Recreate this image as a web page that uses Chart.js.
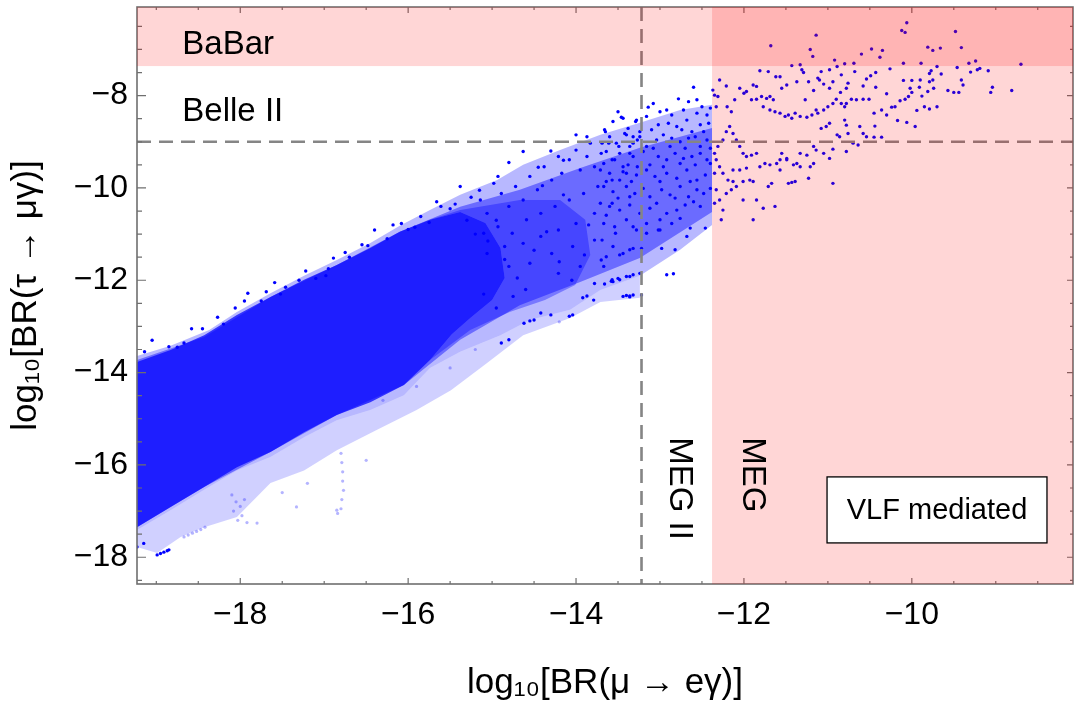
<!DOCTYPE html>
<html><head><meta charset="utf-8">
<script src="https://cdn.jsdelivr.net/npm/chart.js@4.4.0/dist/chart.umd.min.js"></script>
<style>html,body{margin:0;padding:0;background:#fff;overflow:hidden}#wrap{width:1079px;height:716px}</style>
</head><body><div id="wrap"><canvas id="c" width="1079" height="716"></canvas></div>
<script>
// ---- axes / limits ----
const xTicks = [-18, -16, -14, -12, -10];
const yTicks = [-18, -16, -14, -12, -10, -8];
const xRange = [-19.23, -8.08];
const yRange = [-18.58, -6.08];
const megIIBound = -13.22, megBound = -12.38, belleIIBound = -9.0, babarBound = -7.36;
const xTitle = 'log₁₀[BR(μ → eγ)]';
const yTitle = 'log₁₀[BR(τ → μγ)]';

// ---- outline of the whole point band (sparse speckle) ----
const outerEnvelope = [[-19.23,-13.64],[-18.83,-13.42],[-18.37,-13.08],[-18.04,-12.69],[-17.64,-12.28],[-17.24,-11.90],[-16.85,-11.56],[-16.45,-11.19],[-16.10,-10.82],[-15.74,-10.48],[-15.38,-10.15],[-14.94,-9.83],[-14.63,-9.50],[-14.19,-9.18],[-13.71,-8.85],[-13.24,-8.59],[-12.76,-8.31],[-12.38,-8.20],
 [-12.38,-10.80],[-12.76,-11.34],[-13.24,-11.90],[-13.71,-12.21],[-14.07,-12.64],[-14.55,-12.86],[-14.90,-13.19],[-15.38,-13.55],[-15.74,-13.90],[-16.05,-14.49],[-16.45,-14.81],[-16.85,-15.03],[-17.24,-15.40],[-17.64,-15.83],[-18.04,-16.12],[-18.43,-16.54],[-18.83,-16.98],[-19.23,-17.41]];
// ---- outline of the denser part of the band ----
const midEnvelope = [[-19.23,-13.73],[-18.43,-13.23],[-17.64,-12.36],[-16.85,-11.67],[-16.10,-10.95],[-15.38,-10.41],[-14.67,-10.04],[-13.95,-9.57],[-13.24,-9.13],[-12.38,-8.70],
 [-12.38,-10.52],[-13.24,-11.52],[-13.95,-12.04],[-14.67,-12.54],[-15.38,-13.29],[-16.05,-14.27],[-16.85,-14.92],[-17.64,-15.72],[-18.43,-16.48],[-19.23,-17.35]];
// ---- outline of the transition crescent between dense core and speckled part ----
const transitionEnvelope = [[-15.74,-10.69],[-15.38,-10.48],[-14.67,-10.26],[-14.19,-10.26],[-13.89,-10.69],[-13.83,-11.45],[-14.01,-12.10],[-14.37,-12.43],[-14.79,-12.69],[-15.26,-13.08],[-15.74,-13.73],
 [-15.48,-13.17],[-15.26,-12.82],[-15.00,-12.43],[-14.85,-11.95],[-14.90,-11.30],[-15.08,-10.76],[-15.38,-10.52]];
// ---- outline of the saturated core ----
const coreEnvelope = [[-19.23,-13.77],[-18.83,-13.51],[-18.43,-13.19],[-18.04,-12.75],[-17.64,-12.36],[-17.24,-11.99],[-16.85,-11.67],[-16.45,-11.30],[-16.10,-10.95],[-15.74,-10.69],[-15.38,-10.52],
 [-15.08,-10.76],[-14.90,-11.30],[-14.85,-11.95],[-15.00,-12.43],[-15.26,-12.82],[-15.48,-13.17],[-15.74,-13.73],[-16.05,-14.27],[-16.45,-14.64],[-16.85,-14.92],[-17.24,-15.29],[-17.64,-15.72],[-18.04,-16.05],[-18.43,-16.48],[-18.83,-16.91],[-19.23,-17.35]];
// ---- outline of the faint lower fringe ----
const fringeEnvelope = [[-19.23,-17.41],[-18.83,-16.98],[-18.43,-16.54],[-18.04,-16.12],[-17.64,-15.83],[-17.24,-15.40],[-16.85,-15.03],[-16.45,-14.81],[-16.05,-14.49],[-15.74,-13.90],[-15.38,-13.55],[-14.90,-13.19],[-14.55,-12.86],[-14.07,-12.64],[-13.71,-12.21],[-13.24,-11.90],
 [-13.24,-12.38],[-13.71,-12.47],[-14.07,-12.82],[-14.63,-13.19],[-15.06,-13.79],[-15.49,-14.38],[-15.90,-14.81],[-16.37,-15.24],[-16.85,-15.68],[-17.24,-16.12],[-17.64,-16.39],[-18.04,-17.13],[-18.43,-17.35],[-18.71,-17.56],[-18.99,-17.91],[-19.23,-17.78]];

// ---- individual points: MEG-excluded region ----
const megPoints = [[-10.06,-6.42],[-10.12,-6.59],[-10.08,-6.63],[-11.14,-6.69],[-9.48,-6.61],[-11.68,-6.92],[-11.21,-7.00],[-11.18,-7.15],[-9.81,-6.95],[-9.75,-7.02],[-9.66,-6.97],[-9.41,-6.96],[-10.60,-7.10],[-10.48,-6.99],[-10.35,-7.02],[-10.38,-7.17],[-10.92,-7.23],[-10.80,-7.31],[-10.69,-7.30],[-10.10,-7.30],[-9.89,-7.30],[-9.32,-7.30],[-9.24,-7.25],[-8.70,-7.32],[-11.43,-7.35],[-11.33,-7.33],[-10.26,-7.42],[-11.81,-7.46],[-11.31,-7.44],[-11.29,-7.50],[-11.08,-7.48],[-10.98,-7.44],[-10.89,-7.37],[-10.84,-7.55],[-10.68,-7.48],[-10.43,-7.50],[-10.49,-7.57],[-9.77,-7.46],[-9.79,-7.52],[-9.70,-7.37],[-9.46,-7.39],[-9.30,-7.49],[-9.22,-7.44],[-9.19,-7.41],[-9.09,-7.46],[-9.04,-7.82],[-9.06,-7.93],[-8.81,-7.89],[-9.41,-7.66],[-9.39,-7.77],[-9.57,-7.89],[-9.50,-7.93],[-9.44,-7.93],[-9.65,-7.53],[-9.90,-7.66],[-10.00,-7.67],[-10.10,-7.67],[-9.79,-7.70],[-9.75,-7.66],[-9.91,-7.82],[-10.02,-7.84],[-9.74,-7.84],[-9.81,-7.91],[-9.88,-8.01],[-10.00,-7.93],[-10.04,-8.02],[-10.08,-8.08],[-10.14,-8.11],[-10.20,-8.24],[-10.24,-8.25],[-9.96,-8.67],[-10.06,-8.58],[-10.17,-8.54],[-9.94,-8.32],[-9.85,-8.24],[-9.79,-8.29],[-9.70,-8.24],[-10.30,-8.42],[-10.36,-8.31],[-10.45,-8.38],[-10.44,-8.66],[-10.45,-8.90],[-10.36,-8.90],[-10.30,-7.96],[-10.43,-7.82],[-10.54,-7.64],[-10.58,-7.79],[-10.58,-8.08],[-10.51,-8.08],[-10.66,-8.09],[-10.72,-8.08],[-10.76,-7.73],[-10.78,-7.84],[-10.85,-7.93],[-10.90,-8.08],[-10.94,-7.70],[-10.98,-7.84],[-11.05,-7.75],[-11.10,-7.66],[-11.12,-7.62],[-11.17,-7.89],[-11.23,-7.70],[-11.27,-8.09],[-11.37,-7.70],[-11.49,-7.77],[-11.55,-7.84],[-11.57,-7.59],[-11.62,-7.59],[-11.71,-7.48],[-12.29,-7.66],[-12.21,-7.79],[-12.35,-7.99],[-12.31,-8.02],[-12.37,-7.88],[-12.33,-8.24],[-12.20,-8.24],[-12.15,-8.35],[-12.11,-8.09],[-12.05,-7.84],[-12.00,-7.95],[-11.97,-7.91],[-11.89,-7.77],[-11.85,-7.80],[-11.91,-8.09],[-11.85,-8.08],[-11.79,-8.02],[-11.73,-8.06],[-11.69,-8.02],[-11.65,-8.09],[-11.77,-8.24],[-11.69,-8.31],[-11.63,-8.35],[-11.57,-8.38],[-11.51,-8.45],[-11.47,-8.42],[-11.43,-8.49],[-11.39,-8.38],[-11.33,-8.45],[-11.25,-8.47],[-11.19,-8.42],[-11.14,-8.31],[-11.12,-8.38],[-11.05,-8.31],[-11.00,-8.24],[-10.94,-8.17],[-10.84,-8.17],[-10.80,-8.24],[-10.78,-8.17],[-10.98,-8.60],[-11.02,-8.67],[-11.08,-8.71],[-10.86,-8.89],[-10.89,-8.85],[-10.80,-8.53],[-10.78,-8.64],[-10.76,-8.82],[-10.62,-8.67],[-10.58,-8.82],[-10.54,-8.89],[-10.70,-9.03],[-10.64,-9.07],[-10.78,-9.21],[-10.94,-9.16],[-10.98,-9.36],[-11.05,-9.25],[-11.14,-9.18],[-11.17,-9.10],[-11.25,-9.29],[-11.33,-9.25],[-11.37,-9.47],[-11.33,-9.54],[-11.41,-9.50],[-11.49,-9.36],[-11.55,-9.25],[-11.57,-9.39],[-11.61,-9.47],[-11.69,-9.50],[-11.75,-9.47],[-11.81,-9.54],[-11.85,-9.25],[-11.91,-9.29],[-11.97,-9.32],[-12.01,-9.25],[-12.05,-9.10],[-12.09,-8.96],[-12.13,-8.82],[-12.17,-8.67],[-12.21,-8.78],[-12.25,-8.96],[-12.31,-9.10],[-12.35,-9.25],[-12.33,-9.39],[-12.29,-9.54],[-12.35,-9.68],[-12.25,-9.68],[-12.19,-9.83],[-12.13,-9.86],[-12.09,-9.97],[-12.01,-9.86],[-11.93,-9.83],[-11.89,-9.86],[-11.97,-9.57],[-12.05,-9.61],[-12.13,-9.61],[-12.15,-10.04],[-12.21,-10.12],[-12.33,-10.04],[-12.29,-10.26],[-12.35,-10.33],[-12.25,-10.48],[-12.27,-10.69],[-12.01,-10.26],[-11.89,-10.69],[-11.85,-10.26],[-11.77,-10.44],[-11.71,-9.97],[-11.67,-9.90],[-11.63,-10.40],[-11.47,-9.90],[-11.43,-9.88],[-11.39,-9.86],[-11.23,-9.79],[-10.94,-9.90],[-11.57,-9.61],[-11.49,-9.39],[-11.17,-9.47],[-11.21,-9.54]];

// ---- individual points: speckled zone left of the MEG bound ----
const speckledPoints = [[-12.60,-7.82],[-12.78,-8.07],[-12.56,-8.09],[-12.66,-8.13],[-13.08,-8.17],[-13.14,-8.25],[-12.92,-8.31],[-12.72,-8.31],[-12.50,-8.24],[-12.40,-8.27],[-13.00,-8.35],[-12.86,-8.42],[-13.50,-8.35],[-12.56,-8.38],[-12.44,-8.42],[-13.46,-8.47],[-13.28,-8.53],[-13.56,-8.56],[-13.16,-8.45],[-13.02,-8.63],[-12.90,-8.60],[-12.80,-8.67],[-12.68,-8.53],[-12.52,-8.63],[-12.42,-8.60],[-13.65,-8.78],[-13.38,-8.71],[-13.24,-8.78],[-13.10,-8.74],[-12.74,-8.74],[-12.62,-8.78],[-12.48,-8.78],[-13.60,-8.89],[-13.42,-8.82],[-13.32,-8.89],[-13.24,-8.89],[-13.04,-8.96],[-12.96,-8.85],[-12.86,-8.92],[-12.76,-9.00],[-12.66,-8.92],[-12.58,-8.89],[-12.44,-8.96],[-13.69,-9.03],[-13.52,-9.03],[-13.36,-9.10],[-13.16,-9.10],[-13.08,-9.14],[-12.88,-9.10],[-12.70,-9.14],[-12.52,-9.10],[-12.40,-9.14],[-13.64,-9.21],[-13.48,-9.25],[-13.32,-9.32],[-13.20,-9.21],[-13.02,-9.32],[-12.92,-9.39],[-12.82,-9.25],[-12.72,-9.36],[-12.62,-9.32],[-12.52,-9.25],[-12.44,-9.39],[-13.67,-9.47],[-13.54,-9.39],[-13.38,-9.50],[-13.12,-9.50],[-12.96,-9.54],[-12.76,-9.47],[-12.58,-9.50],[-12.40,-9.47],[-13.71,-9.61],[-13.60,-9.68],[-13.44,-9.65],[-13.28,-9.72],[-13.16,-9.61],[-13.06,-9.75],[-12.92,-9.68],[-12.80,-9.79],[-12.68,-9.61],[-12.56,-9.83],[-12.46,-9.72],[-13.64,-9.86],[-13.48,-9.83],[-13.34,-9.86],[-13.00,-9.86],[-12.64,-9.86],[-13.67,-9.97],[-13.56,-10.08],[-13.40,-9.97],[-13.30,-10.12],[-13.20,-10.01],[-13.12,-10.19],[-12.98,-10.04],[-12.88,-10.15],[-12.76,-9.97],[-12.66,-10.19],[-12.56,-10.04],[-12.48,-10.12],[-12.40,-10.01],[-13.50,-10.22],[-12.82,-10.22],[-13.71,-10.33],[-13.60,-10.40],[-13.48,-10.48],[-13.36,-10.37],[-13.24,-10.55],[-13.12,-10.44],[-13.04,-10.33],[-12.92,-10.55],[-12.80,-10.48],[-12.70,-10.37],[-12.60,-10.30],[-12.52,-10.40],[-13.64,-10.59],[-13.67,-10.77],[-13.54,-10.84],[-13.40,-10.69],[-13.28,-10.91],[-13.16,-10.77],[-13.00,-10.91],[-12.86,-10.77],[-12.76,-10.66],[-12.64,-10.87],[-13.00,-10.69],[-13.69,-11.13],[-13.56,-11.27],[-13.36,-11.34],[-13.64,-11.49],[-13.48,-11.45],[-13.32,-11.31],[-13.22,-11.31],[-13.16,-10.98],[-12.98,-11.31],[-12.82,-11.34],[-13.02,-10.91],[-12.68,-11.05],[-12.46,-10.87],[-13.67,-11.70],[-13.56,-12.03],[-13.48,-11.99],[-13.40,-11.92],[-13.32,-11.88],[-13.24,-11.85],[-13.44,-12.35],[-13.36,-12.34],[-13.32,-12.32],[-12.92,-11.88],[-12.84,-11.86],[-13.22,-12.32],
 [-15.14,-10.26],[-15.06,-10.55],[-14.89,-10.12],[-14.80,-10.40],[-14.72,-9.97],[-14.63,-10.26],[-14.55,-9.75],[-14.46,-10.04],[-14.38,-9.54],[-14.29,-9.83],[-14.21,-9.32],[-14.17,-9.68],[-14.08,-9.39],[-14.00,-9.18],[-13.95,-9.61],[-13.87,-9.32],[-13.83,-9.03],[-13.78,-9.54],[-13.70,-9.25],[-13.61,-9.03],[-13.57,-9.39],[-13.49,-9.10],[-13.44,-9.54],[-13.36,-9.25],[-13.27,-8.96],[-15.10,-10.98],[-14.93,-10.84],[-14.76,-10.98],[-14.59,-10.69],[-14.42,-10.55],[-14.25,-10.40],[-14.08,-10.26],[-13.91,-10.12],[-13.74,-9.97],[-13.57,-9.83],[-13.40,-9.68],[-13.27,-9.54],[-15.06,-11.42],[-14.85,-11.27],[-14.63,-11.20],[-14.42,-11.05],[-14.21,-10.91],[-14.00,-10.77],[-13.78,-10.55],[-13.57,-10.33],[-13.36,-10.19],[-14.80,-11.70],[-14.55,-11.63],[-14.29,-11.42],[-14.04,-11.27],[-13.78,-11.13],[-13.53,-10.98],[-13.32,-10.84],[-14.21,-11.85],[-13.95,-11.70],[-13.70,-11.56],[-13.44,-11.42],[-13.36,-11.92],[-13.78,-12.07],[-13.57,-11.99],
 [-15.30,-10.70],[-15.20,-11.00],[-15.05,-11.15],[-14.95,-10.70],[-14.85,-11.55],[-14.70,-11.95],[-14.60,-12.20],[-14.75,-12.35],[-14.95,-12.60],[-15.10,-12.30],[-14.50,-11.35],[-14.35,-10.95],[-14.20,-11.60],[-14.05,-12.00],[-13.90,-11.45],[-13.85,-10.80],[-14.15,-10.15],[-14.40,-9.95]];

// ---- individual points: isolated points around the band ----
const edgePoints = [[-17.91,-12.28],[-17.59,-12.05],[-17.46,-12.15],[-17.10,-11.96],[-16.89,-11.52],[-16.55,-11.23],[-16.40,-10.91],[-16.08,-10.77],[-15.85,-10.62],[-15.61,-10.40],[-15.38,-9.97],[-14.93,-9.75],[-14.63,-9.21],[-14.00,-8.85],[-13.87,-8.89],[-13.66,-8.74],[-13.44,-8.49],[-13.29,-8.56],[-13.40,-8.85],[-13.32,-9.03],[-19.14,-13.55],[-18.85,-13.44],[-18.67,-13.36],[-18.27,-12.80],[-18.06,-12.60],[-17.69,-12.25],[-16.95,-11.75],[-16.70,-11.50],[-16.25,-11.10],[-16.00,-10.90],[-15.75,-10.75],[-15.50,-10.45],[-15.25,-10.20],[-17.30,-12.00],[-17.75,-12.45],[-18.45,-13.05],
 [-19.05,-13.30],[-18.75,-13.45],[-18.58,-13.05],[-18.20,-12.95],[-17.95,-12.45],[-17.52,-12.30],[-17.22,-11.80],[-16.98,-11.90],[-16.75,-11.40],[-16.48,-11.25],[-16.18,-10.80],[-15.92,-10.85],[-15.66,-10.30],[-15.44,-10.35],[-15.15,-10.05],[-14.98,-9.90],[-14.80,-9.45],[-14.45,-9.55],[-14.30,-9.20],[-14.15,-9.40],
 [-18.99,-17.95],[-18.95,-17.92],[-18.91,-17.89],[-18.87,-17.86],[-18.85,-17.84],[-19.23,-17.78],[-19.15,-17.70],[-13.36,-12.36],[-13.40,-12.33],[-14.04,-12.75],[-14.08,-12.78],[-13.79,-12.43],[-14.42,-12.71],[-14.50,-12.86],[-14.80,-13.29],[-14.89,-13.36],[-14.62,-12.93],[-14.55,-12.88],[-14.30,-12.75],[-13.66,-12.08],[-13.58,-12.02],[-13.50,-11.96],[-13.92,-12.38],[-13.87,-12.34]];

// ---- individual faint points in the lower fringe ----
const fadedPoints = [[-16.80,-15.75],[-16.79,-15.95],[-16.78,-16.15],[-16.78,-16.35],[-16.77,-16.55],[-16.79,-16.75],[-16.80,-16.95],[-16.84,-17.05],[-18.10,-16.65],[-18.05,-16.80],[-18.00,-16.90],[-17.95,-16.75],[-18.08,-17.00],[-17.98,-17.10],[-17.92,-17.25],[-18.03,-17.20],[-17.80,-17.26],[-17.33,-16.91],[-16.85,-16.98],[-17.50,-16.60],[-17.20,-16.40],[-16.50,-15.90],[-18.67,-17.56],[-18.62,-17.52],[-18.57,-17.48],[-18.52,-17.44],[-18.47,-17.40],[-18.42,-17.35],[-14.20,-12.90],[-15.20,-13.50],[-15.50,-13.90],[-15.90,-14.30],[-16.30,-14.60]];

const toXY = arr => arr.map(p => ({x: p[0], y: p[1]}));
const FONT = '"Liberation Sans", Arial, Helvetica, sans-serif';
const fmt = v => (v < 0 ? '\u2212' : '') + Math.abs(v);

const overlay = {
  id: 'overlay',
  afterDatasetsDraw(chart) {
    const {ctx, chartArea: a, scales: {x, y}} = chart;
    ctx.save();
    ctx.strokeStyle = '#858585'; ctx.lineWidth = 2.6; ctx.setLineDash([14, 8]);
    const xm = x.getPixelForValue(megIIBound);
    ctx.beginPath(); ctx.moveTo(xm, a.top); ctx.lineTo(xm, a.bottom); ctx.stroke();
    const yb = y.getPixelForValue(belleIIBound);
    ctx.beginPath(); ctx.moveTo(a.left, yb); ctx.lineTo(a.right, yb); ctx.stroke();
    ctx.setLineDash([]);
    ctx.strokeStyle = '#6f6f6f'; ctx.lineWidth = 1.6;
    ctx.strokeRect(a.left, a.top, a.right - a.left, a.bottom - a.top);
    ctx.lineWidth = 1.2;
    ctx.beginPath();
    for (let v = -19; v <= -8.5; v += 0.5) {
      const px = x.getPixelForValue(v), L = xTicks.includes(v) ? 6 : 3;
      ctx.moveTo(px, a.bottom); ctx.lineTo(px, a.bottom - L);
      ctx.moveTo(px, a.top); ctx.lineTo(px, a.top + L);
    }
    for (let v = -18.5; v <= -6.5; v += 0.5) {
      const py = y.getPixelForValue(v), major = yTicks.includes(v);
      ctx.moveTo(a.left, py); ctx.lineTo(a.left + (major ? 9 : 5), py);
      ctx.moveTo(a.right, py); ctx.lineTo(a.right - (major ? 6 : 3), py);
    }
    ctx.stroke();
    ctx.fillStyle = 'rgba(255,0,0,0.16)';
    const yBa = y.getPixelForValue(babarBound);
    ctx.fillRect(a.left, a.top, a.right - a.left, yBa - a.top);
    const xMe = x.getPixelForValue(megBound);
    ctx.fillRect(xMe, a.top, a.right - xMe, a.bottom - a.top);
    ctx.fillStyle = '#000';
    ctx.font = '33px ' + FONT;
    ctx.textAlign = 'left'; ctx.textBaseline = 'alphabetic';
    ctx.fillText('BaBar', x.getPixelForValue(-18.69), y.getPixelForValue(-7.10));
    ctx.fillText('Belle II', x.getPixelForValue(-18.69), y.getPixelForValue(-8.56));
    const rot = (txt, xv) => {
      ctx.save();
      ctx.translate(x.getPixelForValue(xv), y.getPixelForValue(-15.40));
      ctx.rotate(Math.PI / 2);
      ctx.textAlign = 'left'; ctx.textBaseline = 'middle';
      ctx.fillText(txt, 0, 0);
      ctx.restore();
    };
    rot('MEG II', -12.77);
    rot('MEG', -11.90);
    const bx0 = x.getPixelForValue(-11.01), bx1 = x.getPixelForValue(-8.39);
    const by0 = y.getPixelForValue(-16.26), by1 = y.getPixelForValue(-17.69);
    ctx.fillStyle = '#fff'; ctx.fillRect(bx0, by0, bx1 - bx0, by1 - by0);
    ctx.strokeStyle = '#000'; ctx.lineWidth = 1.3; ctx.strokeRect(bx0, by0, bx1 - bx0, by1 - by0);
    ctx.fillStyle = '#000'; ctx.font = '29px ' + FONT;
    ctx.textAlign = 'center'; ctx.textBaseline = 'middle';
    ctx.fillText('VLF mediated', (bx0 + bx1) / 2, (by0 + by1) / 2 + 1);
    ctx.restore();
  }
};

const pts = (data, color, r, order) => ({type: 'scatter', data: toXY(data), backgroundColor: color, borderWidth: 0, pointRadius: r, pointHoverRadius: r, order});
const poly = (data, color, order) => ({type: 'line', data: toXY(data), showLine: true, fill: 'shape', backgroundColor: color, borderWidth: 0, borderColor: 'rgba(0,0,0,0)', pointRadius: 0, tension: 0, order});

new Chart(document.getElementById('c'), {
  type: 'scatter',
  data: {datasets: [
    pts(megPoints, '#0000ff', 1.7, 0),
    pts(speckledPoints, '#0000ff', 1.7, 0),
    pts(edgePoints, '#0000ff', 1.7, 0),
    pts(fadedPoints, 'rgba(40,40,255,0.35)', 1.6, 0),
    poly(coreEnvelope, 'rgba(0,0,255,0.72)', 1),
    poly(transitionEnvelope, 'rgba(0,0,255,0.35)', 2),
    poly(midEnvelope, 'rgba(0,0,255,0.42)', 3),
    poly(outerEnvelope, 'rgba(0,0,255,0.28)', 4),
    poly(fringeEnvelope, 'rgba(40,40,255,0.22)', 5)
  ]},
  options: {
    responsive: false, animation: false, events: [],
    layout: {padding: {top: 7, right: 6, left: 0, bottom: 0}},
    plugins: {legend: {display: false}, tooltip: {enabled: false}},
    scales: {
      x: {type: 'linear', min: xRange[0], max: xRange[1],
        afterBuildTicks: s => { s.ticks = xTicks.map(v => ({value: v})); },
        afterFit: s => { s.height = 132; s.paddingLeft = 0; s.paddingRight = 0; },
        grid: {display: false, drawTicks: false}, border: {display: false},
        ticks: {callback: fmt, color: '#000', font: {family: FONT, size: 32}, padding: 12, maxRotation: 0, autoSkip: false},
        title: {display: true, text: xTitle, color: '#000', font: {family: FONT, size: 35}, padding: {top: 0, bottom: 12}}},
      y: {type: 'linear', min: yRange[0], max: yRange[1],
        afterBuildTicks: s => { s.ticks = yTicks.map(v => ({value: v})); },
        afterFit: s => { s.width = 137; s.paddingTop = 0; s.paddingBottom = 0; },
        grid: {display: false, drawTicks: false}, border: {display: false},
        ticks: {callback: fmt, color: '#000', font: {family: FONT, size: 32}, padding: 9, autoSkip: false},
        title: {display: true, text: yTitle, color: '#000', font: {family: FONT, size: 35}, padding: {top: 5, bottom: 0}}}
    }
  },
  plugins: [overlay]
});
</script></body></html>
